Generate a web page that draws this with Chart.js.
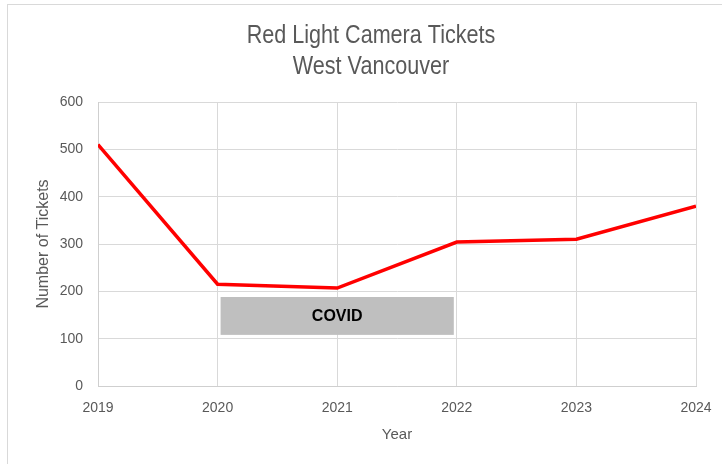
<!DOCTYPE html>
<html>
<head>
<meta charset="utf-8">
<title>Red Light Camera Tickets - West Vancouver</title>
<script src="https://cdn.jsdelivr.net/npm/chart.js@4.4.1/dist/chart.umd.min.js"></script>
<style>
  html, body { margin: 0; padding: 0; background: #ffffff; }
  #wrap { position: relative; width: 722px; height: 464px; }
</style>
</head>
<body>
<div id="wrap"><canvas id="chart" width="722" height="464"></canvas></div>
<script>
// Yearly red light camera tickets
const years = [2019, 2020, 2021, 2022, 2023, 2024];
const tickets = [510, 215, 207, 304, 310, 380];
const yTicks = [0, 100, 200, 300, 400, 500, 600];
const titleLines = ['Red Light Camera Tickets', 'West Vancouver'];

// COVID period band
const covidLabel = 'COVID';
const covidYears = [2020, 2022];
const covidRange = [108, 188];

const TEXT = '#595959';
const GRID = '#d9d9d9';
const FONT = "'Liberation Sans', Arial, sans-serif";

const framePlugin = {
  id: 'frame',
  beforeDraw(chart) {
    const ctx = chart.ctx;
    ctx.save();
    ctx.fillStyle = '#ffffff';
    ctx.fillRect(0, 0, chart.width, chart.height);
    ctx.strokeStyle = GRID;
    ctx.lineWidth = 1;
    ctx.strokeRect(7.5, 4.5, chart.width + 20, chart.height + 20);
    ctx.restore();
  }
};

// Two-line heading in a condensed face, centred over the plot
const headingPlugin = {
  id: 'heading',
  afterDraw(chart) {
    const ctx = chart.ctx;
    const cx = (chart.chartArea.left + chart.chartArea.right) / 2 - 26;
    const squeeze = 0.83;
    ctx.save();
    ctx.fillStyle = TEXT;
    ctx.font = "26px " + FONT;
    ctx.textAlign = 'center';
    ctx.textBaseline = 'alphabetic';
    ctx.translate(cx, 0);
    ctx.scale(squeeze, 1);
    titleLines.forEach((t, i) => ctx.fillText(t, 0, 43 + i * 31));
    ctx.restore();
  }
};

const covidPlugin = {
  id: 'covidBand',
  afterDatasetsDraw(chart) {
    const { ctx, scales: { x, y } } = chart;
    const inset = 3;
    const x0 = x.getPixelForValue(covidYears[0]) + inset;
    const x1 = x.getPixelForValue(covidYears[1]) - inset;
    const y0 = y.getPixelForValue(covidRange[1]);
    const y1 = y.getPixelForValue(covidRange[0]);
    ctx.save();
    ctx.fillStyle = '#bfbfbf';
    ctx.fillRect(x0, y0, x1 - x0, y1 - y0);
    ctx.fillStyle = '#000000';
    ctx.font = "bold 16px " + FONT;
    ctx.textAlign = 'center';
    ctx.textBaseline = 'middle';
    ctx.fillText(covidLabel, (x0 + x1) / 2, (y0 + y1) / 2 + 1);
    ctx.restore();
  }
};

new Chart(document.getElementById('chart'), {
  type: 'line',
  data: {
    datasets: [{
      data: years.map((yr, i) => ({ x: yr, y: tickets[i] })),
      borderColor: '#ff0000',
      borderWidth: 3.5,
      pointRadius: 0,
      tension: 0,
      fill: false
    }]
  },
  options: {
    responsive: false,
    animation: false,
    layout: { padding: { left: 0, right: 26, top: 102, bottom: 0 } },
    plugins: {
      legend: { display: false },
      tooltip: { enabled: false },
      title: { display: false }
    },
    scales: {
      x: {
        type: 'linear',
        min: years[0],
        max: years[years.length - 1],
        afterBuildTicks(scale) { scale.ticks = years.map(v => ({ value: v })); },
        afterFit(scale) {
          scale.height = 78;
          scale.paddingLeft = 0;
          scale.paddingRight = 0;
        },
        ticks: {
          color: TEXT,
          font: { family: FONT, size: 14 },
          padding: 14,
          maxRotation: 0,
          callback: v => String(v)
        },
        grid: { color: GRID, lineWidth: 1, drawTicks: false },
        border: { color: '#cfcfcf', width: 1 },
        title: {
          display: true,
          text: 'Year',
          color: TEXT,
          font: { family: FONT, size: 15 },
          padding: { top: 0, bottom: 20 }
        }
      },
      y: {
        min: 0,
        max: 600,
        afterBuildTicks(scale) { scale.ticks = yTicks.map(v => ({ value: v })); },
        afterFit(scale) {
          scale.width = 98;
          scale.paddingTop = 0;
          scale.paddingBottom = 0;
        },
        ticks: {
          color: TEXT,
          font: { family: FONT, size: 14 },
          padding: 15
        },
        grid: { color: GRID, lineWidth: 1, drawTicks: false },
        border: { color: '#cfcfcf', width: 1 },
        title: {
          display: true,
          text: 'Number of Tickets',
          color: TEXT,
          font: { family: FONT, size: 16 },
          padding: { top: 34, bottom: 0 }
        }
      }
    }
  },
  plugins: [framePlugin, headingPlugin, covidPlugin]
});
</script>
</body>
</html>
